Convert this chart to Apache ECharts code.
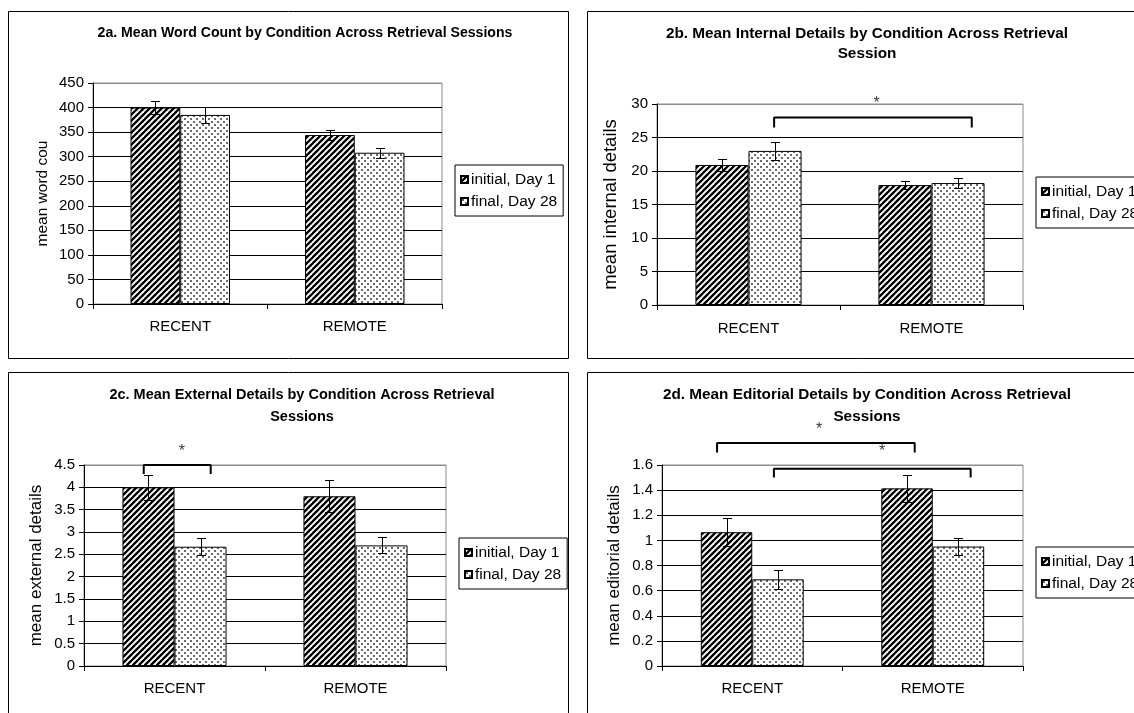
<!DOCTYPE html>
<html><head><meta charset="utf-8">
<script src="https://cdn.jsdelivr.net/npm/echarts@6/dist/echarts.min.js"></script>
<style>html,body{margin:0;padding:0;background:#fff}#c{width:1134px;height:713px}</style>
</head><body><div id="c"></div>
<script>
// ---------------- data ----------------
const categories = ['RECENT', 'REMOTE'];
const seriesNames = ['initial, Day 1', 'final, Day 28'];

const titles = [
  '2a. Mean Word Count by Condition Across Retrieval Sessions',
  '2b. Mean Internal Details by Condition Across Retrieval\nSession',
  '2c. Mean External Details by Condition Across Retrieval\nSessions',
  '2d. Mean Editorial Details by Condition Across Retrieval\nSessions'
];
const yNames = ['mean word cou', 'mean internal details', 'mean external details', 'mean editorial details'];

const ticksA = [0, 50, 100, 150, 200, 250, 300, 350, 400, 450];
const ticksB = [0, 5, 10, 15, 20, 25, 30];
const ticksC = [0, 0.5, 1, 1.5, 2, 2.5, 3, 3.5, 4, 4.5];
const ticksD = [0, 0.2, 0.4, 0.6, 0.8, 1, 1.2, 1.4, 1.6];

const wordInitial = [400, 344];
const wordInitialErr = [14, 10];
const wordFinal = [385, 308];
const wordFinalErr = [16, 10];

const internalInitial = [20.9, 17.9];
const internalInitialErr = [0.95, 0.55];
const internalFinal = [23.0, 18.2];
const internalFinalErr = [1.4, 0.8];

const externalInitial = [4.0, 3.8];
const externalInitialErr = [0.28, 0.36];
const externalFinal = [2.67, 2.70];
const externalFinalErr = [0.19, 0.18];

const editorialInitial = [1.065, 1.414];
const editorialInitialErr = [0.11, 0.11];
const editorialFinal = [0.69, 0.951];
const editorialFinalErr = [0.075, 0.07];

// significance brackets: [xStart, xEnd, yTop, yLegEnd] (x on a 0..2 category span)
const bracketsB = [[0.64, 1.72, 28.0, 26.5]];
const bracketsC = [[0.33, 0.70, 4.5, 4.3]];
const bracketsD = [[0.305, 1.40, 1.776, 1.70], [0.62, 1.71, 1.57, 1.50]];
// significance stars: [x, y]
const starsB = [[1.20, 30.1]];
const starsC = [[0.54, 4.8]];
const starsD = [[0.87, 1.88], [1.22, 1.71]];

// ---------------- styling / layout ----------------
const FONT = '"Liberation Sans", Arial, sans-serif';

function stripePattern() {
  const c = document.createElement('canvas');
  c.width = 6; c.height = 6;
  const g = c.getContext('2d');
  g.fillStyle = '#fff'; g.fillRect(0, 0, 6, 6);
  g.strokeStyle = '#000'; g.lineWidth = 2.3;
  for (const k of [0, 6, 12]) {
    g.beginPath(); g.moveTo(k + 3, -3); g.lineTo(k - 9, 9); g.stroke();
  }
  return { image: c, repeat: 'repeat' };
}
function dotPattern() {
  const c = document.createElement('canvas');
  c.width = 6; c.height = 6;
  const g = c.getContext('2d');
  g.fillStyle = '#fff'; g.fillRect(0, 0, 6, 6);
  g.fillStyle = '#6a6a6a';
  g.fillRect(1, 1, 2, 2);
  g.fillRect(4, 4, 2, 2);
  return { image: c, repeat: 'repeat' };
}
const STRIPE = stripePattern();
const DOTS = dotPattern();

const panels = [
  { grid: { left: 93, top: 83, width: 349, height: 221 }, titleX: 305, titleTop: 23, titleSize: 14.1, titleLH: 20,
    border: [8, 11, 560, 347], legend: { left: 455, top: 165 }, nameGap: 42, nameSize: 15.5,
    ticks: ticksA, gap: '43%', labelMargin: 15,
    initial: wordInitial, initialErr: wordInitialErr, final: wordFinal, finalErr: wordFinalErr,
    brackets: [], stars: [] },
  { grid: { left: 657, top: 104, width: 366, height: 201 }, titleX: 867, titleTop: 24, titleSize: 15.3, titleLH: 20,
    border: [587, 11, 600, 347], legend: { left: 1036, top: 177 }, nameGap: 37, nameSize: 18.5,
    ticks: ticksB, gap: '42%', labelMargin: 16,
    initial: internalInitial, initialErr: internalInitialErr, final: internalFinal, finalErr: internalFinalErr,
    brackets: bracketsB, stars: starsB },
  { grid: { left: 84, top: 465, width: 362, height: 201 }, titleX: 302, titleTop: 384, titleSize: 14.5, titleLH: 22,
    border: [8, 372, 560, 400], legend: { left: 459, top: 538 }, nameGap: 39, nameSize: 17,
    ticks: ticksC, gap: '42.5%', labelMargin: 15,
    initial: externalInitial, initialErr: externalInitialErr, final: externalFinal, finalErr: externalFinalErr,
    brackets: bracketsC, stars: starsC },
  { grid: { left: 662, top: 465, width: 361, height: 201 }, titleX: 867, titleTop: 384, titleSize: 15.3, titleLH: 22,
    border: [587, 372, 600, 400], legend: { left: 1036, top: 547 }, nameGap: 39, nameSize: 17,
    ticks: ticksD, gap: '43%', labelMargin: 15,
    initial: editorialInitial, initialErr: editorialInitialErr, final: editorialFinal, finalErr: editorialFinalErr,
    brackets: bracketsD, stars: starsD }
];

const option = {
  animation: false,
  backgroundColor: '#fff',
  textStyle: { fontFamily: FONT, color: '#000' },
  title: [], grid: [], xAxis: [], yAxis: [], legend: [], series: [], graphic: []
};

function errSeries(gi, means, errs, side, gapStr) {
  const gap = parseFloat(gapStr) / 100;
  return {
    type: 'custom', xAxisIndex: gi * 2, yAxisIndex: gi, z: 10, silent: true,
    data: means.map((m, i) => [i, m, errs[i]]),
    renderItem(params, api) {
      const ci = api.value(0), m = api.value(1), e = api.value(2);
      const band = api.size([1, 0])[0];
      const bw = band * (1 - gap) / 2;
      const c = api.coord([ci, m]);
      const x = Math.round(c[0] + side * bw / 2) + 0.5;
      const top = Math.round(api.coord([ci, m + e])[1]) + 0.5;
      const bot = Math.round(api.coord([ci, m - e])[1]) + 0.5;
      const hw = 4.5;
      const st = { stroke: '#000', lineWidth: 1 };
      return { type: 'group', children: [
        { type: 'line', shape: { x1: x, y1: top, x2: x, y2: bot }, style: st },
        { type: 'line', shape: { x1: x - hw, y1: top, x2: x + hw, y2: top }, style: st },
        { type: 'line', shape: { x1: x - hw, y1: bot, x2: x + hw, y2: bot }, style: st }
      ] };
    }
  };
}

panels.forEach((p, gi) => {
  option.title.push({
    text: titles[gi], left: p.titleX, top: p.titleTop, textAlign: 'center', padding: 0,
    textStyle: { fontFamily: FONT, fontWeight: 'bold', fontSize: p.titleSize, color: '#000',
                 lineHeight: p.titleLH }
  });
  option.grid.push(Object.assign({ show: true, borderColor: '#8c8c8c', borderWidth: 1,
    backgroundColor: 'transparent', containLabel: false, outerBoundsMode: 'none' }, p.grid));
  option.xAxis.push({
    type: 'category', gridIndex: gi, data: categories,
    axisLine: { show: true, lineStyle: { color: '#000', width: 1 } },
    axisTick: { show: true, alignWithLabel: false, inside: false, length: 5, lineStyle: { color: '#000' } },
    axisLabel: { color: '#000', fontSize: 15, fontFamily: FONT, margin: p.labelMargin },
    splitLine: { show: false }
  });
  option.xAxis.push({ type: 'value', gridIndex: gi, min: 0, max: 2, show: false });
  const t = p.ticks;
  const splitColors = t.map((v, i) => i === t.length - 1 ? '#8c8c8c' : '#000');
  option.yAxis.push({
    type: 'value', gridIndex: gi, min: t[0], max: t[t.length - 1], interval: t[1] - t[0],
    axisLine: { show: true, lineStyle: { color: '#000', width: 1 } },
    axisTick: { show: true, inside: false, length: 5, lineStyle: { color: '#000' } },
    axisLabel: { color: '#000', fontSize: 15, fontFamily: FONT, margin: 9 },
    splitLine: { show: true, lineStyle: { color: splitColors, width: 1 } },
    name: yNames[gi], nameLocation: 'middle', nameGap: p.nameGap, nameRotate: 90,
    nameTextStyle: { color: '#000', fontSize: p.nameSize, fontFamily: FONT }
  });
  option.legend.push({
    data: seriesNames, left: p.legend.left, top: p.legend.top, orient: 'vertical',
    backgroundColor: '#fff', borderColor: '#000', borderWidth: 1, borderRadius: 0,
    padding: [6, 6, 6, 5], itemGap: 5, itemWidth: 7, itemHeight: 7, icon: 'rect',
    selectedMode: false,
    textStyle: { color: '#000', fontSize: 15.5, fontFamily: FONT, lineHeight: 17, padding: [0, 0, 0, -2] }
  });
  option.series.push({
    type: 'bar', name: seriesNames[0], xAxisIndex: gi * 2, yAxisIndex: gi, data: p.initial,
    barGap: '0%', barCategoryGap: p.gap,
    itemStyle: { color: STRIPE, borderColor: '#000', borderWidth: 1 }
  });
  option.series.push({
    type: 'bar', name: seriesNames[1], xAxisIndex: gi * 2, yAxisIndex: gi, data: p.final,
    barGap: '0%', barCategoryGap: p.gap,
    itemStyle: { color: DOTS, borderColor: '#000', borderWidth: 1 }
  });
  option.series.push(errSeries(gi, p.initial, p.initialErr, -1, p.gap));
  option.series.push(errSeries(gi, p.final, p.finalErr, 1, p.gap));
  p.brackets.forEach(b => {
    option.series.push({
      type: 'line', xAxisIndex: gi * 2 + 1, yAxisIndex: gi, silent: true, clip: false,
      symbol: 'none', z: 12,
      lineStyle: { color: '#000', width: 2 },
      data: [[b[0], b[3]], [b[0], b[2]], [b[1], b[2]], [b[1], b[3]]]
    });
  });
  if (p.stars.length) {
    option.series.push({
      type: 'scatter', xAxisIndex: gi * 2 + 1, yAxisIndex: gi, silent: true, clip: false,
      symbolSize: 0, z: 12, data: p.stars,
      label: { show: true, position: 'inside', formatter: '*', color: '#000',
               fontSize: 16, fontFamily: FONT }
    });
  }
  const bd = p.border;
  option.graphic.push({
    type: 'rect', silent: true, z: -1,
    shape: { x: bd[0] + 0.5, y: bd[1] + 0.5, width: bd[2], height: bd[3] },
    style: { fill: 'none', stroke: '#000', lineWidth: 1 }
  });
});

const chart = echarts.init(document.getElementById('c'), null, { renderer: 'canvas' });
chart.setOption(option);
</script>
</body></html>
